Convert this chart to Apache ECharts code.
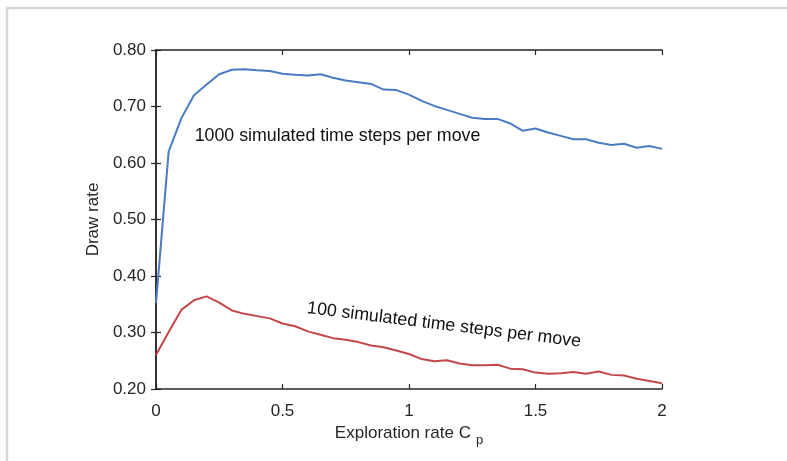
<!DOCTYPE html>
<html>
<head>
<meta charset="utf-8">
<script src="https://cdn.jsdelivr.net/npm/echarts@6/dist/echarts.min.js"></script>
<style>
  html, body { margin: 0; padding: 0; background: #fff; }
  #chart { width: 787px; height: 461px; }
</style>
</head>
<body>
<div id="chart"></div>
<script>
// Exploration rate C_p, sampled every 0.05
const cpValues = [
  0, 0.05, 0.1, 0.15, 0.2, 0.25, 0.3, 0.35, 0.4, 0.45,
  0.5, 0.55, 0.6, 0.65, 0.7, 0.75, 0.8, 0.85, 0.9, 0.95,
  1.0, 1.05, 1.1, 1.15, 1.2, 1.25, 1.3, 1.35, 1.4, 1.45,
  1.5, 1.55, 1.6, 1.65, 1.7, 1.75, 1.8, 1.85, 1.9, 1.95, 2.0
];

// Draw rate with 1000 simulated time steps per move
const draw1000 = [
  0.352, 0.620, 0.679, 0.720, 0.739, 0.757, 0.765, 0.766, 0.764, 0.763,
  0.758, 0.756, 0.755, 0.757, 0.751, 0.746, 0.743, 0.740, 0.730, 0.729,
  0.721, 0.710, 0.701, 0.694, 0.687, 0.680, 0.678, 0.678, 0.670, 0.657,
  0.661, 0.654, 0.648, 0.642, 0.642, 0.636, 0.632, 0.634, 0.627, 0.630, 0.625
];

// Draw rate with 100 simulated time steps per move
const draw100 = [
  0.260, 0.301, 0.340, 0.357, 0.364, 0.353, 0.339, 0.333, 0.329, 0.325,
  0.316, 0.311, 0.302, 0.296, 0.290, 0.287, 0.283, 0.277, 0.274, 0.268,
  0.262, 0.253, 0.249, 0.251, 0.245, 0.242, 0.242, 0.243, 0.236, 0.235,
  0.229, 0.227, 0.228, 0.230, 0.227, 0.231, 0.225, 0.224, 0.218, 0.214, 0.210
];

const xTickLabels = ['0', '0.5', '1', '1.5', '2'];
const yTickLabels = ['0.20', '0.30', '0.40', '0.50', '0.60', '0.70', '0.80'];

const seriesLabels = ['1000 simulated time steps per move', '100 simulated time steps per move'];

const FONT = 'Liberation Sans, Arial, Helvetica, sans-serif';
const TXT = '#262626';
const FS = 17;

const chart = echarts.init(document.getElementById('chart'), null, { renderer: 'canvas' });

const axisLine = { show: true, lineStyle: { color: '#262626', width: 1.5 } };
const axisTickIn = { show: true, inside: true, length: 5, lineStyle: { color: '#262626', width: 1.2 } };

chart.setOption({
  backgroundColor: '#ffffff',
  animation: false,
  grid: { left: 156, right: 125, top: 50, bottom: 72 },
  xAxis: [
    {
      type: 'value', min: 0, max: 2, interval: 0.5, position: 'bottom',
      axisLine, axisTick: axisTickIn, splitLine: { show: false },
      axisLabel: {
        color: TXT, fontFamily: FONT, fontSize: FS, margin: 14,
        formatter: (v) => xTickLabels[Math.round(v / 0.5)]
      },
      name: 'Exploration rate C{sub|p}',
      nameLocation: 'middle', nameGap: 31,
      nameTextStyle: {
        color: TXT, fontFamily: FONT, fontSize: FS,
        rich: { sub: { fontFamily: FONT, fontSize: 13, color: TXT, padding: [14, 0, 0, 5] } }
      }
    },
    {
      type: 'value', min: 0, max: 2, interval: 0.5, position: 'top',
      axisLine, axisTick: axisTickIn, splitLine: { show: false },
      axisLabel: { show: false }
    }
  ],
  yAxis: [
    {
      type: 'value', min: 0.2, max: 0.8, interval: 0.1, position: 'left',
      axisLine, axisTick: axisTickIn, splitLine: { show: false },
      axisLabel: {
        color: TXT, fontFamily: FONT, fontSize: FS, margin: 10,
        formatter: (v) => yTickLabels[Math.round((v - 0.2) / 0.1)]
      },
      name: 'Draw rate', nameLocation: 'middle', nameGap: 54, nameRotate: 90,
      nameTextStyle: { color: TXT, fontFamily: FONT, fontSize: FS }
    },
    {
      type: 'value', min: 0.2, max: 0.8, interval: 0.1, position: 'right',
      axisLine, axisTick: axisTickIn, splitLine: { show: false },
      axisLabel: { show: false }
    }
  ],
  series: [
    {
      name: seriesLabels[0], type: 'line', xAxisIndex: 0, yAxisIndex: 0,
      data: cpValues.map((x, i) => [x, draw1000[i]]),
      showSymbol: false, lineStyle: { color: '#4a7cc2', width: 2 }, z: 3
    },
    {
      name: seriesLabels[1], type: 'line', xAxisIndex: 0, yAxisIndex: 0,
      data: cpValues.map((x, i) => [x, draw100[i]]),
      showSymbol: false, lineStyle: { color: '#c4474a', width: 2 }, z: 3
    }
  ],
  graphic: [
    // page frame
    {
      type: 'polyline', silent: true,
      shape: { points: [[7, 470], [7, 8], [800, 8]] },
      style: { stroke: '#d6d6d6', lineWidth: 2.5, fill: null }
    },
    {
      type: 'text', x: 337.5, y: 136,
      style: {
        text: seriesLabels[0], fontFamily: FONT, fontSize: 17.8, fill: '#111',
        align: 'center', verticalAlign: 'middle'
      }
    },
    {
      type: 'text', x: 444, y: 325, rotation: -7 * Math.PI / 180,
      style: {
        text: seriesLabels[1], fontFamily: FONT, fontSize: 17.8, fill: '#111',
        align: 'center', verticalAlign: 'middle'
      }
    }
  ]
});
</script>
</body>
</html>
